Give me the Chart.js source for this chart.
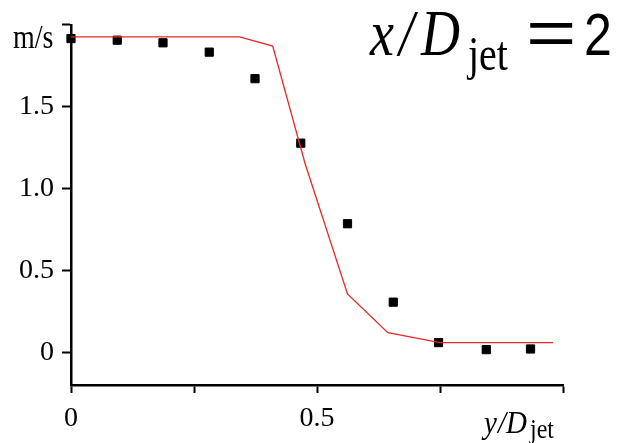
<!DOCTYPE html>
<html>
<head>
<meta charset="utf-8">
<script src="https://cdn.jsdelivr.net/npm/chart.js@4/dist/chart.umd.min.js"></script>
<style>
html,body{margin:0;padding:0;background:#fff;}
canvas{display:block;}
</style>
</head>
<body>
<canvas id="c" width="621" height="443"></canvas>
<script>
// Measured data (squares)
const measX = [0, 0.094, 0.187, 0.281, 0.374, 0.467, 0.562, 0.655, 0.747, 0.844, 0.934];
const measY = [1.916, 1.906, 1.89, 1.833, 1.671, 1.277, 0.785, 0.306, 0.059, 0.016, 0.02];
// Simulated profile (red line)
const simX = [0, 0.343, 0.41, 0.476, 0.562, 0.644, 0.75, 0.98];
const simY = [1.926, 1.926, 1.87, 1.15, 0.356, 0.12, 0.059, 0.059];
// Ticks
const xTicks = [0, 0.25, 0.5, 0.75, 1.0];
const xTickLabels = ['0', '', '0.5', '', ''];
const yTicks = [0, 0.5, 1.0, 1.5, 2.0];
const yTickLabels = ['0', '0.5', '1.0', '1.5', ''];

const SERIF = "'Liberation Serif', 'Times New Roman', serif";
const SANS = "'Liberation Sans', Arial, sans-serif";

function txt(ctx, s, x, y, font, sx, sy) {
  ctx.save();
  ctx.translate(x, y);
  ctx.scale(sx, sy);
  ctx.font = font;
  ctx.fillStyle = '#000';
  ctx.textAlign = 'left';
  ctx.textBaseline = 'alphabetic';
  ctx.fillText(s, 0, 0);
  ctx.restore();
}

const textPlugin = {
  id: 'texts',
  beforeDraw(chart) {
    const ctx = chart.ctx;
    ctx.save();
    ctx.fillStyle = '#fff';
    ctx.fillRect(0, 0, chart.width, chart.height);
    ctx.restore();
  },
  afterDraw(chart) {
    const ctx = chart.ctx;
    // y unit
    txt(ctx, 'm/s', 13, 48, '28px ' + SERIF, 1, 1.2);
    // x label
    txt(ctx, 'y', 484, 433, 'italic 29px ' + SERIF, 1, 1.1);
    txt(ctx, '/', 498, 433, 'italic 29px ' + SERIF, 1, 1.1);
    txt(ctx, 'D', 506, 433, 'italic 29px ' + SERIF, 1, 1.1);
    txt(ctx, 'jet', 530, 438, '24px ' + SERIF, 1, 1.1);
    // title
    txt(ctx, 'x', 370, 55, 'italic 54px ' + SERIF, 1, 1.2);
    txt(ctx, '/', 399, 55, 'italic 54px ' + SERIF, 1, 1.2);
    txt(ctx, 'D', 421, 55, 'italic 54px ' + SERIF, 1, 1.2);
    txt(ctx, 'jet', 468, 70, '40px ' + SERIF, 1, 1.2);
    txt(ctx, '=', 526, 55, '54px ' + SANS, 1.6, 1.2);
    txt(ctx, '2', 584, 55, '50px ' + SANS, 1, 1.2);
  }
};

new Chart(document.getElementById('c'), {
  type: 'scatter',
  data: {
    datasets: [
      {
        label: 'sim',
        data: simX.map((x, i) => ({x: x, y: simY[i]})),
        showLine: true,
        borderColor: 'rgb(232,40,40)',
        borderWidth: 1.3,
        pointRadius: 0,
        fill: false,
        tension: 0,
        clip: false
      },
      {
        label: 'exp',
        data: measX.map((x, i) => ({x: x, y: measY[i]})),
        showLine: false,
        pointStyle: 'rect',
        pointRadius: 5.8,
        backgroundColor: '#000',
        borderColor: '#000',
        borderWidth: 1,
        clip: false
      }
    ]
  },
  options: {
    responsive: false,
    animation: false,
    events: [],
    layout: {padding: {top: 23, right: 58, left: 0, bottom: 0}},
    plugins: {legend: {display: false}, tooltip: {enabled: false}, title: {display: false}},
    scales: {
      x: {
        type: 'linear',
        min: 0, max: 1,
        afterBuildTicks: (s) => { s.ticks = xTicks.map(v => ({value: v})); },
        afterFit: (s) => { s.height = 58; },
        ticks: {
          callback: (v, i) => xTickLabels[i],
          font: {family: SERIF, size: 28},
          color: '#000',
          padding: 9,
          maxRotation: 0,
          autoSkip: false
        },
        grid: {display: true, drawOnChartArea: false, drawTicks: true, tickLength: 8, tickWidth: 2, tickColor: '#000', color: '#000'},
        border: {display: true, color: '#000', width: 2.5}
      },
      y: {
        type: 'linear',
        min: -0.2, max: 2.0,
        afterBuildTicks: (s) => { s.ticks = yTicks.map(v => ({value: v})); },
        afterFit: (s) => { s.width = 71; },
        ticks: {
          callback: (v, i) => yTickLabels[i],
          font: {family: SERIF, size: 28},
          color: '#000',
          padding: 8,
          autoSkip: false
        },
        grid: {display: true, drawOnChartArea: false, drawTicks: true, tickLength: 9, tickWidth: 2, tickColor: '#000', color: '#000'},
        border: {display: true, color: '#000', width: 2.5}
      }
    }
  },
  plugins: [textPlugin]
});
</script>
</body>
</html>
